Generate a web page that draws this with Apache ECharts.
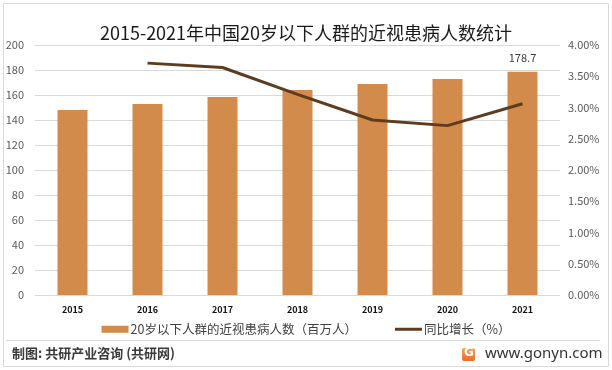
<!DOCTYPE html>
<html>
<head>
<meta charset="utf-8">
<script src="https://cdn.jsdelivr.net/npm/echarts@6/dist/echarts.min.js"></script>
<style>
html,body{margin:0;padding:0;background:#fff;}
#chart{width:612px;height:370px;}
</style>
</head>
<body>
<div id="chart"></div>
<script>
var years = ['2015','2016','2017','2018','2019','2020','2021'];
var patients = [148.0, 152.8, 158.4, 164.0, 168.8, 172.8, 178.7];
var growth = [null, 3.71, 3.64, 3.21, 2.80, 2.71, 3.06];
var title = '2015-2021年中国20岁以下人群的近视患病人数统计';
var barName = '20岁以下人群的近视患病人数（百万人）';
var lineName = '同比增长（%）';
var source = '制图: 共研产业咨询 (共研网)';
var site = 'www.gonyn.com';

var FONT = '"Noto Sans CJK SC", "Noto Sans", sans-serif';
var chart = echarts.init(document.getElementById('chart'), null, {renderer:'canvas'});

var barData = patients.map(function(v, i){
  if (i === patients.length - 1) {
    return {value: v, label: {show: true, position: 'top', distance: 8, color: '#404040', fontSize: 11, fontFamily: FONT}};
  }
  return v;
});

chart.setOption({
  animation: false,
  textStyle: {fontFamily: FONT},
  title: {
    text: title, left: 'center', top: 19,
    textStyle: {fontSize: 18, fontWeight: 'normal', color: '#1a1a1a', fontFamily: FONT}
  },
  grid: {left: 35, right: 52, top: 45, bottom: 75, containLabel: false},
  legend: {
    top: 318, left: 'center', itemGap: 38, itemWidth: 27, itemHeight: 7,
    textStyle: {fontSize: 12.5, color: '#404040', fontFamily: FONT, padding: [0,0,0,-3]},
    data: [
      {name: barName, icon: 'rect'},
      {name: lineName, icon: 'path://M0,0M0,2H27V5H0ZM27,7', itemStyle: {color: '#5e3c1f'}}
    ]
  },
  xAxis: {
    type: 'category', data: years,
    axisLine: {show: false}, axisTick: {show: false},
    axisLabel: {color: '#111', fontSize: 9, fontWeight: 'bold', margin: 10, fontFamily: FONT}
  },
  yAxis: [
    {
      type: 'value', min: 0, max: 200, interval: 20,
      axisLine: {show: false}, axisTick: {show: false},
      axisLabel: {color: '#595959', fontSize: 11, margin: 11},
      splitLine: {lineStyle: {color: '#d9d9d9', width: 1}}
    },
    {
      type: 'value', min: 0, max: 4, interval: 0.5,
      axisLine: {show: false}, axisTick: {show: false},
      axisLabel: {color: '#595959', fontSize: 11, margin: 8, formatter: function(v){ return v.toFixed(2) + '%'; }},
      splitLine: {show: false}
    }
  ],
  series: [
    {
      name: barName, type: 'bar', data: barData, barWidth: 30,
      itemStyle: {color: '#d38b4b'}
    },
    {
      name: lineName, type: 'line', yAxisIndex: 1, data: growth,
      showSymbol: false, symbol: 'none', connectNulls: false,
      lineStyle: {color: '#5e3c1f', width: 3},
      itemStyle: {color: '#5e3c1f'}
    }
  ],
  graphic: [
    {type: 'rect', shape: {x: 3.5, y: 3.5, width: 605, height: 363}, style: {fill: 'none', stroke: '#d9d9d9', lineWidth: 1}, silent: true},
    {type: 'line', shape: {x1: 6, y1: 340.5, x2: 600, y2: 340.5}, style: {stroke: '#d9d9d9', lineWidth: 1}, silent: true},
    {type: 'text', left: 12, top: 347, style: {text: source, fontSize: 13, fontWeight: 'bold', fill: '#3a3a3a', fontFamily: FONT}},
    {type: 'rect', shape: {x: 462, y: 348, width: 13, height: 13, r: 2}, style: {fill: new echarts.graphic.LinearGradient(0,0,0,1,[{offset:0,color:'#f7a35c'},{offset:1,color:'#ee6a2b'}])}},
    {type: 'text', left: 464, top: 347, style: {text: 'G', fontSize: 12, fontWeight: 'bold', fill: '#fff', fontFamily: 'DejaVu Sans'}},
    {type: 'text', left: 485, top: 346, style: {text: site, fontSize: 15, fill: '#333', fontFamily: '"Noto Sans", sans-serif'}}
  ]
});
</script>
</body>
</html>
